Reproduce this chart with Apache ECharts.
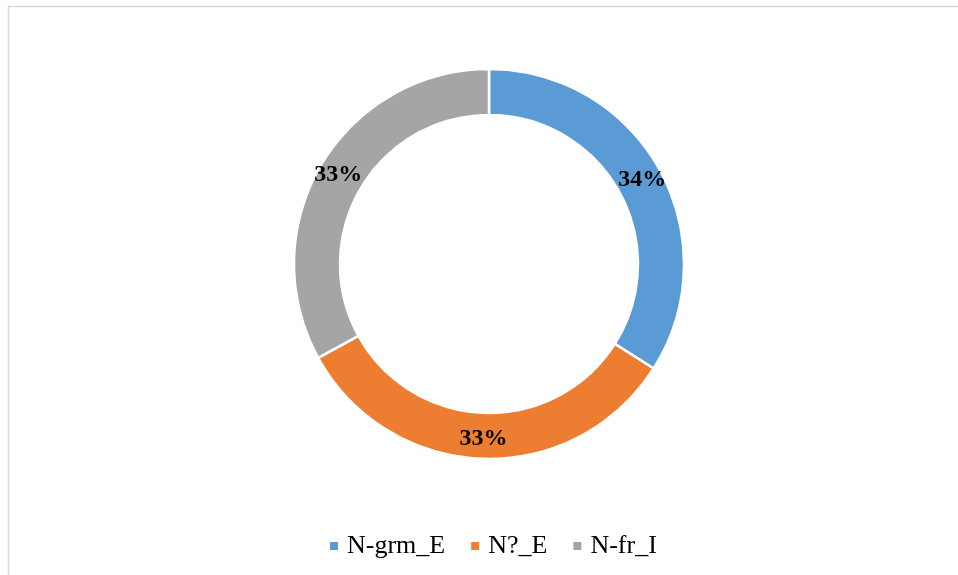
<!DOCTYPE html>
<html>
<head>
<meta charset="utf-8">
<style>
  html, body { margin: 0; padding: 0; background: #ffffff; }
  #chart { width: 958px; height: 575px; }
</style>
<script src="https://cdn.jsdelivr.net/npm/echarts@6/dist/echarts.min.js"></script>
</head>
<body>
<div id="chart"></div>
<script>
// Share of each group
const categories = ['N-grm_E', 'N?_E', 'N-fr_I'];
const values = [34, 33, 33];
const colors = ['#5B9BD5', '#ED7D31', '#A5A5A5'];

const serif = "'Liberation Serif', 'Times New Roman', Times, serif";

const chart = echarts.init(document.getElementById('chart'));

chart.setOption({
  backgroundColor: '#ffffff',
  animation: false,
  color: colors,
  graphic: [{
    type: 'rect',
    shape: { x: 8.5, y: 6.5, width: 970, height: 600 },
    style: { fill: 'none', stroke: '#d9d9d9', lineWidth: 1.5 },
    silent: true
  }],
  legend: {
    top: 528,
    left: 323,
    itemWidth: 10,
    itemHeight: 10,
    itemGap: 24,
    icon: 'rect',
    textStyle: {
      fontFamily: serif,
      fontSize: 26,
      color: '#000000',
      padding: [0, 0, 0, 3]
    },
    data: categories
  },
  series: [{
    type: 'pie',
    center: [489, 264],
    radius: [149, 195],
    startAngle: 90,
    clockwise: true,
    avoidLabelOverlap: false,
    itemStyle: { borderColor: '#ffffff', borderWidth: 2.5 },
    label: {
      show: true,
      position: 'inside',
      formatter: p => Math.round(p.percent) + '%',
      fontFamily: serif,
      fontWeight: 'bold',
      fontSize: 24,
      color: '#000000'
    },
    labelLine: { show: false },
    emphasis: { disabled: true },
    data: categories.map((name, i) => ({ name, value: values[i] }))
  }]
});
</script>
</body>
</html>
